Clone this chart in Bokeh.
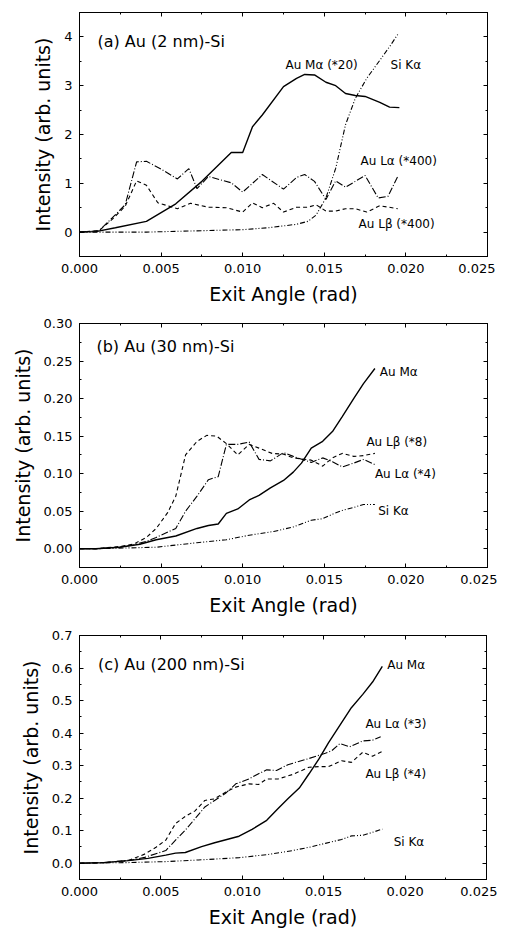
from bokeh.plotting import figure
from bokeh.layouts import column
from bokeh.models import (LinearAxis, FixedTicker, NumeralTickFormatter, Range1d,
                          CustomJSTickFormatter)
from bokeh.core.properties import value
from bokeh.embed import file_html
from bokeh.resources import INLINE

# ---------------- data ----------------
x_ticks = [0.0, 0.005, 0.010, 0.015, 0.020, 0.025]
x_minor = [0.0025, 0.0075, 0.0125, 0.0175, 0.0225]

# panel (a) Au (2 nm)-Si
a_ma_x = [0, 0.0010, 0.0022, 0.0041, 0.0059, 0.0075, 0.0093, 0.0100, 0.0106, 0.0112, 0.0125, 0.0133, 0.0138, 0.0144, 0.0151, 0.0157, 0.0163, 0.0169, 0.0175, 0.0184, 0.0190, 0.0196]
a_ma_y = [0, 0.01, 0.09, 0.22, 0.58, 1.04, 1.63, 1.63, 2.16, 2.40, 2.98, 3.15, 3.23, 3.22, 3.07, 3.00, 2.84, 2.80, 2.78, 2.66, 2.56, 2.55]
a_si_x = [0, 0.0041, 0.0100, 0.0116, 0.0133, 0.0140, 0.0145, 0.0151, 0.0157, 0.0163, 0.0169, 0.0176, 0.0184, 0.0190, 0.0195]
a_si_y = [0, 0.00, 0.05, 0.09, 0.16, 0.22, 0.35, 0.70, 1.31, 2.20, 2.74, 3.15, 3.52, 3.80, 4.05]
a_la_x = [0, 0.0012, 0.0020, 0.0028, 0.0035, 0.0041, 0.0049, 0.0060, 0.0067, 0.0072, 0.0079, 0.0093, 0.0100, 0.0112, 0.0125, 0.0133, 0.0138, 0.0144, 0.0151, 0.0157, 0.0163, 0.0175, 0.0183, 0.0189, 0.0195]
a_la_y = [0, 0.03, 0.29, 0.56, 1.44, 1.45, 1.31, 1.09, 1.30, 0.89, 1.14, 1.01, 0.82, 1.18, 0.88, 1.12, 1.18, 1.04, 0.67, 1.05, 0.92, 1.16, 0.70, 0.73, 1.14]
a_lb_x = [0, 0.0012, 0.0020, 0.0028, 0.0035, 0.0041, 0.0048, 0.0060, 0.0068, 0.0079, 0.0090, 0.0100, 0.0106, 0.0112, 0.0119, 0.0125, 0.0133, 0.0140, 0.0145, 0.0151, 0.0157, 0.0163, 0.0169, 0.0176, 0.0184, 0.0195]
a_lb_y = [0, 0.03, 0.26, 0.53, 1.05, 0.96, 0.60, 0.48, 0.59, 0.51, 0.50, 0.41, 0.60, 0.50, 0.59, 0.41, 0.51, 0.51, 0.56, 0.43, 0.43, 0.48, 0.48, 0.41, 0.54, 0.48]
a_y_ticks = [0, 1, 2, 3, 4]
a_y_minor = [-0.5, 0.5, 1.5, 2.5, 3.5, 4.5]
a_title = "(a) Au (2 nm)-Si"
a_lbl_text = ["Au M\u03b1 (*20)", "Si K\u03b1", "Au L\u03b1 (*400)", "Au L\u03b2 (*400)"]
a_lbl_x = [0.01262, 0.01906, 0.01722, 0.0171]
a_lbl_y = [3.43, 3.43, 1.45, 0.17]

# panel (b) Au (30 nm)-Si
b_ma_x = [0, 0.0010, 0.00245, 0.0037, 0.0047, 0.0059, 0.0072, 0.0079, 0.0085, 0.0090, 0.0097, 0.0104, 0.0110, 0.0117, 0.0125, 0.0131, 0.0136, 0.0142, 0.0149, 0.0155, 0.0161, 0.0168, 0.0174, 0.0181]
b_ma_y = [0, 0, 0.002, 0.006, 0.012, 0.017, 0.027, 0.031, 0.033, 0.047, 0.053, 0.065, 0.071, 0.081, 0.091, 0.102, 0.114, 0.134, 0.143, 0.156, 0.176, 0.200, 0.220, 0.240]
b_si_x = [0, 0.0010, 0.0047, 0.0072, 0.0090, 0.0104, 0.0119, 0.0131, 0.0142, 0.0149, 0.0155, 0.0161, 0.0168, 0.0174, 0.0181]
b_si_y = [0, 0, 0.002, 0.008, 0.012, 0.018, 0.023, 0.029, 0.038, 0.040, 0.046, 0.051, 0.055, 0.059, 0.059]
b_lb_x = [0, 0.0010, 0.00245, 0.0033, 0.0041, 0.0047, 0.0054, 0.0059, 0.0065, 0.0072, 0.0078, 0.0084, 0.0090, 0.0097, 0.0104, 0.0110, 0.0118, 0.0125, 0.0131, 0.0142, 0.0149, 0.0155, 0.0161, 0.0168, 0.0174, 0.0181]
b_lb_y = [0, 0, 0.003, 0.006, 0.015, 0.027, 0.048, 0.070, 0.125, 0.143, 0.151, 0.150, 0.140, 0.125, 0.139, 0.134, 0.127, 0.126, 0.121, 0.118, 0.110, 0.121, 0.127, 0.123, 0.124, 0.127]
b_la_x = [0, 0.0010, 0.00245, 0.0033, 0.0041, 0.0047, 0.0059, 0.0065, 0.0072, 0.0079, 0.0085, 0.0090, 0.0097, 0.0104, 0.0110, 0.0117, 0.0125, 0.0131, 0.0142, 0.0149, 0.0155, 0.0161, 0.0168, 0.0174, 0.0181]
b_la_y = [0, 0, 0.002, 0.005, 0.010, 0.015, 0.027, 0.050, 0.070, 0.092, 0.096, 0.139, 0.139, 0.142, 0.119, 0.117, 0.128, 0.123, 0.115, 0.121, 0.116, 0.109, 0.114, 0.119, 0.112]
b_y_ticks = [0.0, 0.05, 0.10, 0.15, 0.20, 0.25, 0.30]
b_y_minor = [-0.025, 0.025, 0.075, 0.125, 0.175, 0.225, 0.275]
b_title = "(b) Au (30 nm)-Si"
b_lbl_text = ["Au M\u03b1", "Au L\u03b2 (*8)", "Au L\u03b1 (*4)", "Si K\u03b1"]
b_lbl_x = [0.0184, 0.01758, 0.0181, 0.0183]
b_lbl_y = [0.236, 0.1416, 0.0996, 0.050]

# panel (c) Au (200 nm)-Si
c_ma_x = [0, 0.0015, 0.0030, 0.0042, 0.0053, 0.0059, 0.0065, 0.0075, 0.0083, 0.0098, 0.0106, 0.0115, 0.0122, 0.0128, 0.0135, 0.0141, 0.0147, 0.0153, 0.0161, 0.0167, 0.0174, 0.0180, 0.0186]
c_ma_y = [0, 0.002, 0.008, 0.015, 0.025, 0.031, 0.033, 0.051, 0.063, 0.083, 0.104, 0.132, 0.168, 0.198, 0.231, 0.275, 0.320, 0.371, 0.432, 0.478, 0.519, 0.557, 0.605]
c_si_x = [0, 0.0030, 0.0053, 0.0073, 0.0098, 0.0116, 0.0131, 0.0141, 0.0151, 0.0161, 0.0167, 0.0174, 0.0180, 0.0186]
c_si_y = [0, 0.002, 0.005, 0.010, 0.017, 0.027, 0.039, 0.049, 0.061, 0.073, 0.084, 0.086, 0.095, 0.105]
c_la_x = [0, 0.0015, 0.0032, 0.0040, 0.0053, 0.0059, 0.0065, 0.0071, 0.0077, 0.0083, 0.0090, 0.0096, 0.0104, 0.0110, 0.0115, 0.0121, 0.0128, 0.0141, 0.0151, 0.0155, 0.0160, 0.0166, 0.0174, 0.0180, 0.0185]
c_la_y = [0, 0.002, 0.010, 0.018, 0.039, 0.071, 0.102, 0.137, 0.173, 0.193, 0.216, 0.244, 0.259, 0.275, 0.287, 0.285, 0.303, 0.322, 0.338, 0.346, 0.368, 0.358, 0.376, 0.378, 0.389]
c_lb_x = [0, 0.0015, 0.0030, 0.0040, 0.0047, 0.0053, 0.0059, 0.0065, 0.0071, 0.0077, 0.0083, 0.0090, 0.0096, 0.0104, 0.0110, 0.0115, 0.0122, 0.0131, 0.0141, 0.0147, 0.0153, 0.0161, 0.0167, 0.0174, 0.0180, 0.0186]
c_lb_y = [0, 0.002, 0.008, 0.028, 0.049, 0.071, 0.122, 0.144, 0.161, 0.193, 0.198, 0.219, 0.234, 0.244, 0.242, 0.259, 0.259, 0.273, 0.295, 0.297, 0.297, 0.315, 0.310, 0.341, 0.329, 0.344]
c_y_ticks = [0.0, 0.1, 0.2, 0.3, 0.4, 0.5, 0.6, 0.7]
c_y_minor = [-0.05, 0.05, 0.15, 0.25, 0.35, 0.45, 0.55, 0.65]
c_title = "(c) Au (200 nm)-Si"
c_lbl_text = ["Au M\u03b1", "Au L\u03b1 (*3)", "Au L\u03b2 (*4)", "Si K\u03b1"]
c_lbl_x = [0.0189, 0.01756, 0.01756, 0.0193]
c_lbl_y = [0.610, 0.427, 0.275, 0.066]

FONT = "DejaVu Sans"
DASH_LA = "7 2 1 2"
DASH_LB = "4 3"
DASH_SI = "5 2 1 2 1 2"


def make_panel(fw, fh, borders, yr, yt, ym, yfmt, title, title_xy,
               ma, si, la, lb, lbl_x, lbl_y, lbl_text):
    p = figure(frame_width=fw, frame_height=fh, output_backend="svg",
               toolbar_location=None, x_range=Range1d(0, 0.025),
               y_range=Range1d(*yr),
               min_border_left=borders[0], min_border_right=borders[1],
               min_border_top=borders[2], min_border_bottom=borders[3])
    p.xgrid.visible = False
    p.ygrid.visible = False
    p.outline_line_color = "black"
    p.outline_line_width = 1

    xt = FixedTicker(ticks=x_ticks, minor_ticks=x_minor)
    ytk = FixedTicker(ticks=yt, minor_ticks=ym)
    p.xaxis.ticker = xt
    p.yaxis.ticker = ytk
    p.xaxis.formatter = NumeralTickFormatter(format="0.000")
    p.yaxis.formatter = NumeralTickFormatter(format=yfmt)
    p.xaxis.axis_label = "Exit Angle (rad)"
    p.yaxis.axis_label = "Intensity (arb. units)"
    for ax in (p.xaxis[0], p.yaxis[0]):
        ax.major_tick_in = 4
        ax.major_tick_out = 0
        ax.minor_tick_in = 2
        ax.minor_tick_out = 0
        ax.axis_line_color = "black"
        ax.major_tick_line_color = "black"
        ax.minor_tick_line_color = "black"
        ax.major_label_text_font = FONT
        ax.major_label_text_font_size = "13px"
        ax.major_label_text_color = "black"
        ax.major_label_standoff = 7
        ax.axis_label_text_font = FONT
        ax.axis_label_text_font_size = "19px"
        ax.axis_label_text_font_style = "normal"
        ax.axis_label_text_color = "black"
        ax.axis_label_standoff = 7

    for place, tk in (("above", xt), ("right", ytk)):
        ax = LinearAxis(ticker=tk,
                        formatter=CustomJSTickFormatter(code="return '';"),
                        major_label_text_font_size="1px",
                        major_label_standoff=0, major_tick_in=4,
                        major_tick_out=0, minor_tick_in=2, minor_tick_out=0,
                        axis_line_color="black")
        p.add_layout(ax, place)

    p.line(ma[0], ma[1], line_color="black", line_width=1.4)
    p.line(si[0], si[1], line_color="black", line_width=1.1, line_dash=DASH_SI)
    p.line(la[0], la[1], line_color="black", line_width=1.1, line_dash=DASH_LA)
    p.line(lb[0], lb[1], line_color="black", line_width=1.1, line_dash=DASH_LB)

    p.text(x=[title_xy[0]], y=[title_xy[1]], text=[title],
           text_font=value(FONT), text_font_size="16px",
           text_baseline="middle", text_align="left", text_color="black")
    p.text(x=lbl_x, y=lbl_y, text=lbl_text, text_font=value(FONT),
           text_font_size="12px", text_baseline="middle",
           text_align="left", text_color="black")
    return p


pa = make_panel(408, 244, (75, 12, 12, 52), (-0.5, 4.5), a_y_ticks, a_y_minor,
                "0", a_title, (0.0011, 3.9),
                (a_ma_x, a_ma_y), (a_si_x, a_si_y), (a_la_x, a_la_y),
                (a_lb_x, a_lb_y), a_lbl_x, a_lbl_y, a_lbl_text)
pb = make_panel(408, 244, (78, 11, 15, 52), (-0.025, 0.30), b_y_ticks, b_y_minor,
                "0.00", b_title, (0.00104, 0.269),
                (b_ma_x, b_ma_y), (b_si_x, b_si_y), (b_la_x, b_la_y),
                (b_lb_x, b_lb_y), b_lbl_x, b_lbl_y, b_lbl_text)
pc = make_panel(407, 244, (79, 11, 16, 50), (-0.05, 0.7), c_y_ticks, c_y_minor,
                "0.0", c_title, (0.00113, 0.612),
                (c_ma_x, c_ma_y), (c_si_x, c_si_y), (c_la_x, c_la_y),
                (c_lb_x, c_lb_y), c_lbl_x, c_lbl_y, c_lbl_text)

layout = column(pa, pb, pc, spacing=0)
open("out.html", "w").write(file_html(layout, INLINE))
